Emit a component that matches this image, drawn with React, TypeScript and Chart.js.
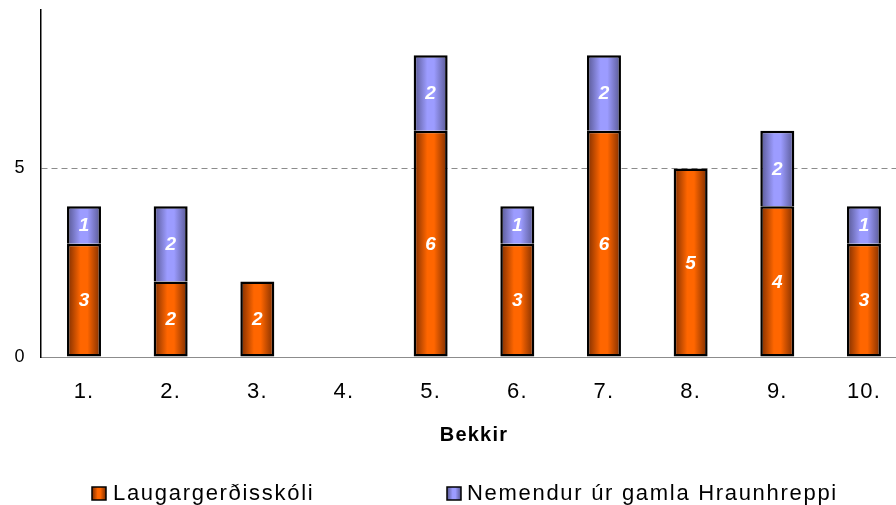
import React, { useEffect, useRef } from 'react';
import { Chart, registerables } from 'chart.js';

Chart.register(...registerables);

// ---- Data ----
const categories = ['1.', '2.', '3.', '4.', '5.', '6.', '7.', '8.', '9.', '10.'];
const laugargerdisskoli = [3, 2, 2, null, 6, 3, 6, 5, 4, 3];
const hraunhreppi = [1, 2, null, null, 2, 1, 2, null, 2, 1];
const seriesNames = ['Laugargerðisskóli', 'Nemendur úr gamla Hraunhreppi'];
const yTickValues = [0, 5];
const xAxisTitle = 'Bekkir';

// ---- Styles ----
const FONT = '"Liberation Sans", Arial, Helvetica, sans-serif';
const ORANGE = { edge: '#7a2c00', mid: '#ff6600' };
const PURPLE = { edge: '#56568f', mid: '#9c9cff' };
const seriesColors = [ORANGE, PURPLE];

const CANVAS_W = 920;
const CANVAS_H = 505;
const BW = 2.5;

function hGradient(ctx: CanvasRenderingContext2D, x0: number, x1: number, c: { edge: string; mid: string }) {
  const g = ctx.createLinearGradient(x0, 0, x1, 0);
  g.addColorStop(0, c.edge);
  g.addColorStop(0.4, c.mid);
  g.addColorStop(0.6, c.mid);
  g.addColorStop(1, c.edge);
  return g;
}

const gradientPlugin = {
  id: 'barGradient',
  beforeDatasetsDraw(chart: any) {
    const ctx = chart.ctx;
    chart.data.datasets.forEach((ds: any, di: number) => {
      const meta = chart.getDatasetMeta(di);
      meta.data.forEach((el: any) => {
        const { x, width } = el.getProps(['x', 'width'], true);
        if (!isFinite(x) || !isFinite(width)) return;
        el.options.backgroundColor = hGradient(ctx, x - width / 2, x + width / 2, seriesColors[di]);
      });
    });
  },
};

const textPlugin = {
  id: 'textStuff',
  beforeDraw(chart: any) {
    (chart.ctx as any).letterSpacing = '1.2px';
  },
  afterDatasetsDraw(chart: any) {
    const ctx = chart.ctx;
    ctx.save();
    (ctx as any).letterSpacing = '0px';
    ctx.font = `italic bold 19px ${FONT}`;
    ctx.fillStyle = '#ffffff';
    ctx.textAlign = 'center';
    ctx.textBaseline = 'middle';
    chart.data.datasets.forEach((ds: any, di: number) => {
      const meta = chart.getDatasetMeta(di);
      meta.data.forEach((el: any, i: number) => {
        const v = ds.data[i];
        if (v == null || v === 0) return;
        const { x, y, base } = el.getProps(['x', 'y', 'base'], true);
        ctx.fillText(String(v), x, (y + base) / 2 + 1);
      });
    });
    ctx.restore();
  },
  afterDraw(chart: any) {
    const ctx = chart.ctx;
    ctx.save();
    (ctx as any).letterSpacing = '1.7px';
    const items = [
      { box: 92, text: 113 },
      { box: 447, text: 467 },
    ];
    const y = 487;
    items.forEach((it, i) => {
      ctx.fillStyle = hGradient(ctx, it.box, it.box + 14, seriesColors[i]);
      ctx.fillRect(it.box, y, 14, 13);
      ctx.lineWidth = 1.5;
      ctx.strokeStyle = '#000';
      ctx.strokeRect(it.box, y, 14, 13);
      ctx.fillStyle = '#000';
      ctx.font = `22px ${FONT}`;
      ctx.textAlign = 'left';
      ctx.textBaseline = 'middle';
      ctx.fillText(seriesNames[i], it.text, y + 6.5);
    });
    ctx.restore();
    (ctx as any).letterSpacing = '0px';
  },
};

export default function App() {
  const ref = useRef<HTMLCanvasElement | null>(null);

  useEffect(() => {
    if (!ref.current) return;
    const chart = new Chart(ref.current, {
      type: 'bar',
      data: {
        labels: categories,
        datasets: [
          {
            label: seriesNames[0],
            data: laugargerdisskoli,
            backgroundColor: () => ORANGE.mid,
            borderColor: '#000000',
            borderWidth: { left: BW, right: BW, bottom: BW, top: BW },
            borderSkipped: false,
            inflateAmount: 0,
            barPercentage: 0.392,
            categoryPercentage: 1,
          },
          {
            label: seriesNames[1],
            data: hraunhreppi,
            backgroundColor: () => PURPLE.mid,
            borderColor: '#000000',
            borderWidth: (c: any) => {
              const below = laugargerdisskoli[c.dataIndex];
              return { left: BW, right: BW, top: BW, bottom: below ? 0 : BW };
            },
            borderSkipped: false,
            inflateAmount: 0,
            barPercentage: 0.392,
            categoryPercentage: 1,
          },
        ],
      } as any,
      options: {
        responsive: false,
        animation: false,
        devicePixelRatio: 1,
        layout: { padding: { top: 10, right: CANVAS_W - 907.3, left: 0, bottom: 0 } },
        plugins: {
          legend: { display: false },
          tooltip: { enabled: false },
        },
        scales: {
          x: {
            stacked: true,
            grid: { display: false, drawTicks: false },
            border: { display: true, color: '#8c8c8c', width: 1 },
            ticks: {
              color: '#000',
              font: { family: FONT, size: 22 },
              padding: 22,
              maxRotation: 0,
              autoSkip: false,
            },
            title: {
              display: true,
              text: xAxisTitle,
              color: '#000',
              font: { family: FONT, size: 20, weight: 'bold' },
              padding: { top: 0, bottom: 58 },
            },
            afterFit: (s: any) => {
              s.height = 148;
              s.paddingLeft = 0;
              s.paddingRight = 0;
            },
          },
          y: {
            stacked: true,
            min: 0,
            max: 9.2,
            afterBuildTicks: (s: any) => {
              s.ticks = yTickValues.map((v) => ({ value: v }));
            },
            ticks: {
              color: '#000',
              font: { family: FONT, size: 18 },
              padding: 15,
            },
            grid: {
              drawTicks: false,
              color: (c: any) => (c.tick && c.tick.value === 5 ? '#8c8c8c' : 'rgba(0,0,0,0)'),
              lineWidth: 1,
            },
            border: { display: true, color: '#000', width: 1.5, dash: [6, 4] },
            afterFit: (s: any) => {
              s.width = 40.67;
              s.paddingTop = 0;
              s.paddingBottom = 0;
            },
          },
        },
      } as any,
      plugins: [gradientPlugin, textPlugin],
    });
    return () => chart.destroy();
  }, []);

  return (
    <div
      style={{
        position: 'absolute',
        left: 0,
        top: 0,
        width: 896,
        height: 505,
        overflow: 'hidden',
        background: '#fff',
      }}
    >
      <canvas ref={ref} width={CANVAS_W} height={CANVAS_H} style={{ display: 'block' }} />
    </div>
  );
}
